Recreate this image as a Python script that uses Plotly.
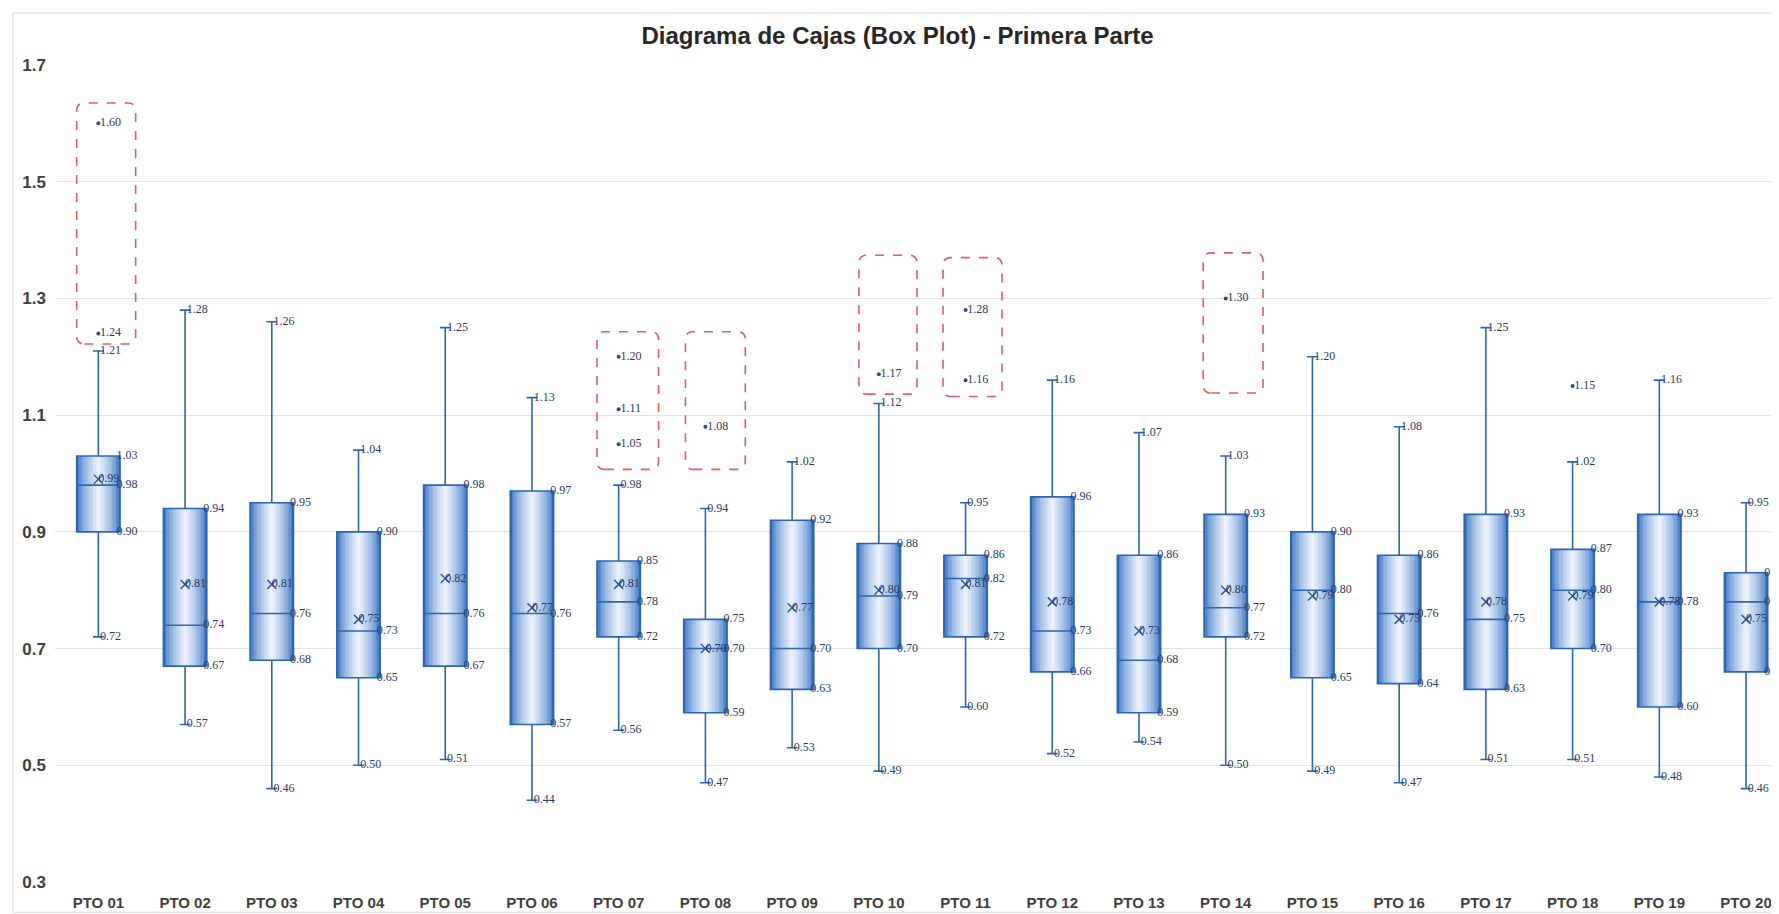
import plotly.graph_objects as go

categories = ["PTO 01", "PTO 02", "PTO 03", "PTO 04", "PTO 05", "PTO 06", "PTO 07", "PTO 08", "PTO 09", "PTO 10",
              "PTO 11", "PTO 12", "PTO 13", "PTO 14", "PTO 15", "PTO 16", "PTO 17", "PTO 18", "PTO 19", "PTO 20"]
upper_whisker = [1.21, 1.28, 1.26, 1.04, 1.25, 1.13, 0.98, 0.94, 1.02, 1.12,
                 0.95, 1.16, 1.07, 1.03, 1.20, 1.08, 1.25, 1.02, 1.16, 0.95]
q3_values = [1.03, 0.94, 0.95, 0.90, 0.98, 0.97, 0.85, 0.75, 0.92, 0.88,
             0.86, 0.96, 0.86, 0.93, 0.90, 0.86, 0.93, 0.87, 0.93, 0.83]
median_values = [0.98, 0.74, 0.76, 0.73, 0.76, 0.76, 0.78, 0.70, 0.70, 0.79,
                 0.82, 0.73, 0.68, 0.77, 0.80, 0.76, 0.75, 0.80, 0.78, 0.78]
mean_values = [0.99, 0.81, 0.81, 0.75, 0.82, 0.77, 0.81, 0.70, 0.77, 0.80,
               0.81, 0.78, 0.73, 0.80, 0.79, 0.75, 0.78, 0.79, 0.78, 0.75]
q1_values = [0.90, 0.67, 0.68, 0.65, 0.67, 0.57, 0.72, 0.59, 0.63, 0.70,
             0.72, 0.66, 0.59, 0.72, 0.65, 0.64, 0.63, 0.70, 0.60, 0.66]
lower_whisker = [0.72, 0.57, 0.46, 0.50, 0.51, 0.44, 0.56, 0.47, 0.53, 0.49,
                 0.60, 0.52, 0.54, 0.50, 0.49, 0.47, 0.51, 0.51, 0.48, 0.46]
outliers = [[1.60, 1.24], [], [], [], [], [], [1.20, 1.11, 1.05], [1.08], [], [1.17],
            [1.28, 1.16], [], [], [1.30], [], [], [], [1.15], [], []]
y_ticks = [0.3, 0.5, 0.7, 0.9, 1.1, 1.3, 1.5, 1.7]
# highlighted outlier groups: (category index, x-left offset, x-right offset, y bottom, y top)
highlight_groups = [(0, -0.25, 0.43, 1.222, 1.635), (6, -0.25, 0.46, 1.007, 1.243),
                    (7, -0.23, 0.46, 1.007, 1.243), (9, -0.23, 0.44, 1.136, 1.374),
                    (10, -0.26, 0.42, 1.132, 1.370), (13, -0.26, 0.43, 1.138, 1.378)]

title_text = "Diagrama de Cajas (Box Plot) - Primera Parte"

xs = list(range(len(categories)))
BOX_W = 0.5
LABEL_FONT = dict(family="Liberation Serif, Times New Roman", size=12, color="#2B3A67")

# the page body adds an 8px offset; compensate in the margins
PAGE_OFF = 8

fig = go.Figure()

# gradient-filled boxes (dark edges, light centre) built from layered bars
edge = (38, 104, 192)
center = (234, 241, 250)
N = 16
for k in range(N):
    t = (k / (N - 1)) ** 0.6
    col = tuple(int(round(edge[c] + (center[c] - edge[c]) * t)) for c in range(3))
    w = BOX_W * (1 - k / N)
    fig.add_trace(go.Bar(
        x=xs, y=[q3_values[i] - q1_values[i] for i in xs], base=q1_values,
        width=w, marker=dict(color="rgb(%d,%d,%d)" % col, line=dict(width=0)),
        hoverinfo="skip", showlegend=False))

# box outlines, medians, whiskers
fig.add_trace(go.Box(
    x=xs, q1=q1_values, median=median_values, q3=q3_values,
    lowerfence=lower_whisker, upperfence=upper_whisker,
    width=BOX_W, whiskerwidth=0.25, boxpoints=False,
    fillcolor="rgba(0,0,0,0)", line=dict(color="#2C66B0", width=1.6),
    showlegend=False, hoverinfo="skip"))

# mean markers
fig.add_trace(go.Scatter(
    x=xs, y=mean_values, mode="markers",
    marker=dict(symbol="x-thin", size=9, line=dict(color="#2A5DA8", width=1.5)),
    showlegend=False, hoverinfo="skip"))

# outlier markers
ox, oy = [], []
for i in xs:
    for v in outliers[i]:
        ox.append(i)
        oy.append(v)
fig.add_trace(go.Scatter(
    x=ox, y=oy, mode="markers", marker=dict(size=4, color="#2B4A8A"),
    showlegend=False, hoverinfo="skip"))


def add_labels(xvals, yvals):
    fig.add_trace(go.Scatter(
        x=xvals, y=yvals, mode="text", text=["%.2f" % v for v in yvals],
        textposition="middle right", textfont=LABEL_FONT,
        showlegend=False, hoverinfo="skip", cliponaxis=False))


add_labels([i + 0.02 for i in xs], upper_whisker)
add_labels([i + 0.02 for i in xs], lower_whisker)
add_labels([i + BOX_W / 2 - 0.04 for i in xs], q3_values)
add_labels([i + BOX_W / 2 - 0.04 for i in xs], median_values)
add_labels([i + BOX_W / 2 - 0.04 for i in xs], q1_values)
add_labels([i + 0.0 for i in xs], mean_values)
add_labels([x + 0.02 for x in ox], oy)

# dashed rounded rectangles around outliers
rx, ry = 0.09, 0.014
shapes = []
for (ci, xl, xr, yb, yt) in highlight_groups:
    x0, x1 = ci + xl, ci + xr
    path = (f"M {x0+rx},{yb} L {x1-rx},{yb} Q {x1},{yb} {x1},{yb+ry} "
            f"L {x1},{yt-ry} Q {x1},{yt} {x1-rx},{yt} L {x0+rx},{yt} "
            f"Q {x0},{yt} {x0},{yt-ry} L {x0},{yb+ry} Q {x0},{yb} {x0+rx},{yb} Z")
    shapes.append(dict(type="path", path=path, xref="x", yref="y",
                       line=dict(color="#E35C60", width=1.6, dash="dash"),
                       fillcolor="rgba(0,0,0,0)", layer="above"))

# chart border
shapes.append(dict(type="rect", xref="paper", yref="paper",
                   x0=-0.0244, x1=1.02, y0=-0.037, y1=1.0636,
                   line=dict(color="#D9D9D9", width=1), layer="below"))

fig.update_layout(
    width=1779, height=914,
    margin=dict(l=55 - PAGE_OFF, r=PAGE_OFF, t=65 - PAGE_OFF, b=32 + PAGE_OFF),
    paper_bgcolor="white", plot_bgcolor="white",
    barmode="overlay", bargap=0,
    showlegend=False,
    title=dict(text="<b>" + title_text + "</b>", x=0.5, xanchor="center",
               y=1 - (36 - PAGE_OFF) / 914, yanchor="middle", yref="container",
               font=dict(family="Liberation Sans, Arial", size=24, color="#262626")),
    shapes=shapes,
)
fig.update_xaxes(
    range=[-0.5, 19.38], tickvals=xs, ticktext=["<b>%s</b>" % c for c in categories],
    tickfont=dict(family="Liberation Sans, Arial", size=15, color="#404040"),
    showgrid=False, zeroline=False, showline=False, ticks="", ticklabelstandoff=10,
    automargin=False)
fig.update_yaxes(
    range=[0.3, 1.7], tickvals=y_ticks, ticktext=["<b>%.1f</b>" % v for v in y_ticks],
    tickfont=dict(family="Liberation Sans, Arial", size=17, color="#404040"),
    showgrid=True, gridcolor="#E3E3E3", gridwidth=1, zeroline=False, showline=False,
    ticks="", ticklabelstandoff=8, automargin=False)

fig.write_html("out.html")
